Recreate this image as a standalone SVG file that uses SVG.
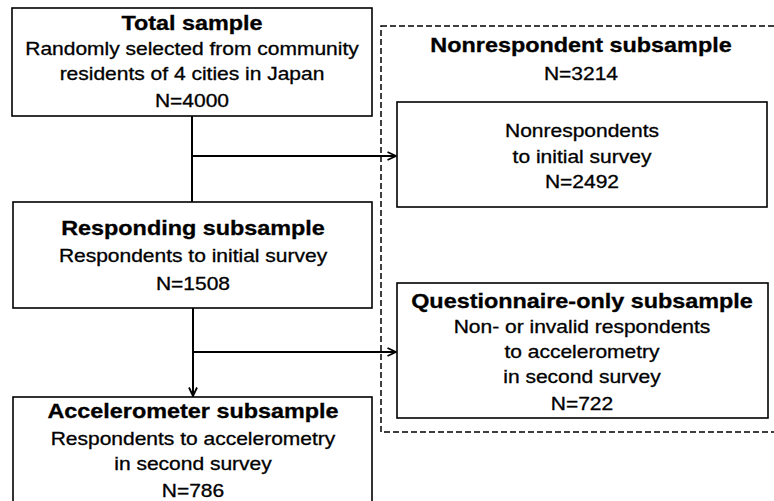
<svg xmlns="http://www.w3.org/2000/svg" width="774" height="501" viewBox="0 0 774 501">
<style>
.box{fill:#fff;stroke:#000;stroke-width:1.6}
.dash{fill:none;stroke:#000;stroke-width:1.5;stroke-dasharray:6,3}
.conn{fill:none;stroke:#000;stroke-width:2}
text{font-family:"Liberation Sans",Arial,Helvetica,sans-serif;fill:#000;text-anchor:middle}
.t{font-weight:bold;font-size:19.5px;stroke:#000;stroke-width:0.3}
.b{font-size:17.5px;stroke:#000;stroke-width:0.3}
</style>
<defs>
<marker id="arr" viewBox="0 0 10 10" refX="9.5" refY="5" markerWidth="10" markerHeight="10" markerUnits="userSpaceOnUse" orient="auto">
<path d="M1,1 L9.5,5 L1,9" fill="none" stroke="#000" stroke-width="1.8"/>
</marker>
</defs>
<rect width="774" height="501" fill="#fff"/>
<g id="nonrespondent-group">
<rect class="dash" x="381" y="26" width="400" height="406"/>
<text class="t" transform="translate(581,52) scale(1.2,1)">Nonrespondent subsample</text>
<text class="b" transform="translate(581,80) scale(1.2,1)">N=3214</text>
</g>
<g id="total">
<rect class="box" x="12" y="8" width="360" height="108"/>
<text class="t" transform="translate(192,30) scale(1.2,1)">Total sample</text>
<text class="b" transform="translate(192,55) scale(1.2,1)">Randomly selected from community</text>
<text class="b" transform="translate(192,80) scale(1.2,1)">residents of 4 cities in Japan</text>
<text class="b" transform="translate(192,107) scale(1.2,1)">N=4000</text>
</g>
<g id="nonrespondents">
<rect class="box" x="397" y="102" width="370" height="105"/>
<text class="b" transform="translate(582,137) scale(1.2,1)">Nonrespondents</text>
<text class="b" transform="translate(582,163) scale(1.2,1)">to initial survey</text>
<text class="b" transform="translate(582,188) scale(1.2,1)">N=2492</text>
</g>
<g id="responding">
<rect class="box" x="13" y="202" width="359" height="106"/>
<text class="t" transform="translate(193,235) scale(1.2,1)">Responding subsample</text>
<text class="b" transform="translate(193,262) scale(1.2,1)">Respondents to initial survey</text>
<text class="b" transform="translate(193,290) scale(1.2,1)">N=1508</text>
</g>
<g id="questionnaire">
<rect class="box" x="397" y="283" width="371" height="135"/>
<text class="t" transform="translate(582,308) scale(1.2,1)">Questionnaire-only subsample</text>
<text class="b" transform="translate(582,333) scale(1.2,1)">Non- or invalid respondents</text>
<text class="b" transform="translate(582,358) scale(1.2,1)">to accelerometry</text>
<text class="b" transform="translate(582,383) scale(1.2,1)">in second survey</text>
<text class="b" transform="translate(582,410) scale(1.2,1)">N=722</text>
</g>
<g id="accelerometer">
<rect class="box" x="13" y="397" width="359" height="112"/>
<text class="t" transform="translate(193,418) scale(1.2,1)">Accelerometer subsample</text>
<text class="b" transform="translate(193,445) scale(1.2,1)">Respondents to accelerometry</text>
<text class="b" transform="translate(193,470) scale(1.2,1)">in second survey</text>
<text class="b" transform="translate(193,497) scale(1.2,1)">N=786</text>
</g>
<g id="connectors">
<path class="conn" d="M192,116 V202"/>
<path class="conn" d="M192,156 H396" marker-end="url(#arr)"/>
<path class="conn" d="M193,308 V396" marker-end="url(#arr)"/>
<path class="conn" d="M193,352 H396" marker-end="url(#arr)"/>
</g>
</svg>
